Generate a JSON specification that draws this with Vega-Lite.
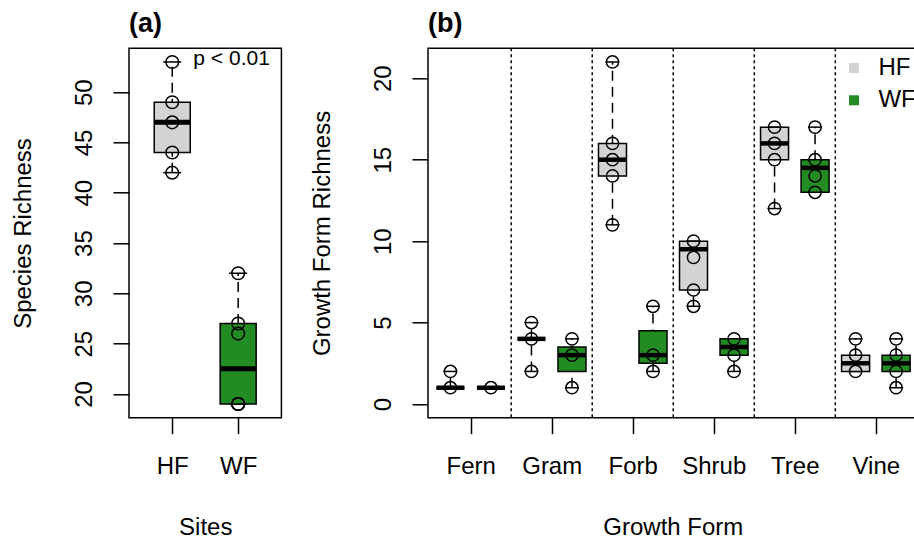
{
  "$schema": "https://vega.github.io/schema/vega-lite/v6.json",
  "padding": {"left": 10, "top": 8.3, "right": 0, "bottom": 0},
  "background": "white",
  "config": {
    "font": "Liberation Sans",
    "view": {"stroke": "black", "strokeWidth": 1.5},
    "tick": {"opacity": 1},
    "axis": {
      "domain": false,
      "tickColor": "black", "tickWidth": 1.5, "tickSize": 16,
      "labelColor": "black", "labelFontSize": 24, "labelFont": "Liberation Sans",
      "titleColor": "black", "titleFontSize": 24, "titleFontWeight": "normal", "titleFont": "Liberation Sans",
      "grid": false, "labelFlush": false, "labelOverlap": false
    }
  },
  "datasets": {
    "statsA": [
      {"site": "HF", "pos": 1, "lo": 42, "q1": 44, "med": 47, "q3": 49, "hi": 53},
      {"site": "WF", "pos": 2, "lo": 19, "q1": 19, "med": 22.5, "q3": 27, "hi": 32}
    ],
    "ptsA": [
      {"site": "HF", "pos": 1, "richness": 53},
      {"site": "HF", "pos": 1, "richness": 49},
      {"site": "HF", "pos": 1, "richness": 47},
      {"site": "HF", "pos": 1, "richness": 44},
      {"site": "HF", "pos": 1, "richness": 42},
      {"site": "WF", "pos": 2, "richness": 32},
      {"site": "WF", "pos": 2, "richness": 27},
      {"site": "WF", "pos": 2, "richness": 26},
      {"site": "WF", "pos": 2, "richness": 19},
      {"site": "WF", "pos": 2, "richness": 19},
      {"site": "WF", "pos": 2, "richness": 19}
    ],
    "statsB": [
      {"form": "Fern", "site": "HF", "pos": 1, "lo": 1, "q1": 1, "med": 1, "q3": 1, "hi": 2},
      {"form": "Fern", "site": "WF", "pos": 2, "lo": 1, "q1": 1, "med": 1, "q3": 1, "hi": 1},
      {"form": "Gram", "site": "HF", "pos": 3, "lo": 2, "q1": 4, "med": 4, "q3": 4, "hi": 5},
      {"form": "Gram", "site": "WF", "pos": 4, "lo": 1, "q1": 2, "med": 3, "q3": 3.5, "hi": 4},
      {"form": "Forb", "site": "HF", "pos": 5, "lo": 11, "q1": 14, "med": 15, "q3": 16, "hi": 21},
      {"form": "Forb", "site": "WF", "pos": 6, "lo": 2, "q1": 2.5, "med": 3, "q3": 4.5, "hi": 6},
      {"form": "Shrub", "site": "HF", "pos": 7, "lo": 6, "q1": 7, "med": 9.5, "q3": 10, "hi": 10},
      {"form": "Shrub", "site": "WF", "pos": 8, "lo": 2, "q1": 3, "med": 3.5, "q3": 4, "hi": 4},
      {"form": "Tree", "site": "HF", "pos": 9, "lo": 12, "q1": 15, "med": 16, "q3": 17, "hi": 17},
      {"form": "Tree", "site": "WF", "pos": 10, "lo": 13, "q1": 13, "med": 14.5, "q3": 15, "hi": 17},
      {"form": "Vine", "site": "HF", "pos": 11, "lo": 2, "q1": 2, "med": 2.5, "q3": 3, "hi": 4},
      {"form": "Vine", "site": "WF", "pos": 12, "lo": 1, "q1": 2, "med": 2.5, "q3": 3, "hi": 4}
    ],
    "ptsB": [
      {"form": "Fern", "site": "HF", "pos": 1, "richness": 2},
      {"form": "Fern", "site": "HF", "pos": 1, "richness": 1},
      {"form": "Fern", "site": "WF", "pos": 2, "richness": 1},
      {"form": "Gram", "site": "HF", "pos": 3, "richness": 5},
      {"form": "Gram", "site": "HF", "pos": 3, "richness": 4},
      {"form": "Gram", "site": "HF", "pos": 3, "richness": 2},
      {"form": "Gram", "site": "WF", "pos": 4, "richness": 4},
      {"form": "Gram", "site": "WF", "pos": 4, "richness": 3},
      {"form": "Gram", "site": "WF", "pos": 4, "richness": 1},
      {"form": "Forb", "site": "HF", "pos": 5, "richness": 21},
      {"form": "Forb", "site": "HF", "pos": 5, "richness": 16},
      {"form": "Forb", "site": "HF", "pos": 5, "richness": 15},
      {"form": "Forb", "site": "HF", "pos": 5, "richness": 14},
      {"form": "Forb", "site": "HF", "pos": 5, "richness": 11},
      {"form": "Forb", "site": "WF", "pos": 6, "richness": 6},
      {"form": "Forb", "site": "WF", "pos": 6, "richness": 3},
      {"form": "Forb", "site": "WF", "pos": 6, "richness": 2},
      {"form": "Shrub", "site": "HF", "pos": 7, "richness": 10},
      {"form": "Shrub", "site": "HF", "pos": 7, "richness": 9},
      {"form": "Shrub", "site": "HF", "pos": 7, "richness": 7},
      {"form": "Shrub", "site": "HF", "pos": 7, "richness": 6},
      {"form": "Shrub", "site": "WF", "pos": 8, "richness": 4},
      {"form": "Shrub", "site": "WF", "pos": 8, "richness": 3},
      {"form": "Shrub", "site": "WF", "pos": 8, "richness": 2},
      {"form": "Tree", "site": "HF", "pos": 9, "richness": 17},
      {"form": "Tree", "site": "HF", "pos": 9, "richness": 16},
      {"form": "Tree", "site": "HF", "pos": 9, "richness": 15},
      {"form": "Tree", "site": "HF", "pos": 9, "richness": 12},
      {"form": "Tree", "site": "WF", "pos": 10, "richness": 17},
      {"form": "Tree", "site": "WF", "pos": 10, "richness": 15},
      {"form": "Tree", "site": "WF", "pos": 10, "richness": 14},
      {"form": "Tree", "site": "WF", "pos": 10, "richness": 13},
      {"form": "Vine", "site": "HF", "pos": 11, "richness": 4},
      {"form": "Vine", "site": "HF", "pos": 11, "richness": 3},
      {"form": "Vine", "site": "HF", "pos": 11, "richness": 2},
      {"form": "Vine", "site": "WF", "pos": 12, "richness": 4},
      {"form": "Vine", "site": "WF", "pos": 12, "richness": 3},
      {"form": "Vine", "site": "WF", "pos": 12, "richness": 2},
      {"form": "Vine", "site": "WF", "pos": 12, "richness": 1}
    ],
    "seps": [
      {"boundary": 2.5}, {"boundary": 4.5}, {"boundary": 6.5}, {"boundary": 8.5}, {"boundary": 10.5}
    ]
  },
  "hconcat": [
    {
      "width": 152.4,
      "height": 369.4,
      "title": {"text": "(a)", "anchor": "start", "frame": "group", "fontSize": 27, "fontWeight": "bold", "baseline": "alphabetic", "offset": -11, "color": "black"},
      "layer": [
        {
          "data": {"name": "statsA"},
          "mark": {"type": "rule", "color": "black", "strokeWidth": 1.5, "strokeDash": [10, 6]},
          "encoding": {
            "x": {"field": "pos", "type": "quantitative",
                  "scale": {"domain": [0.42, 2.58], "nice": false, "zero": false},
                  "axis": {"title": "Sites", "values": [1, 2], "labelExpr": "datum.value == 1 ? 'HF' : 'WF'",
                           "labelBaseline": "alphabetic", "labelPadding": 40, "labelAngle": 0,
                           "titleBaseline": "alphabetic", "titleY": 116.5}},
            "y": {"field": "lo", "type": "quantitative",
                  "scale": {"domain": [17.64, 54.36], "nice": false, "zero": false},
                  "axis": {"title": "Species Richness", "values": [20, 25, 30, 35, 40, 45, 50],
                           "labelAngle": 270, "labelAlign": "center", "labelBaseline": "alphabetic", "labelPadding": 21.3,
                           "titleAngle": 270, "titleBaseline": "alphabetic", "titleAlign": "center", "titleX": -98.5, "titleY": 184.7}},
            "y2": {"field": "hi"}
          }
        },
        {
          "data": {"name": "statsA"},
          "mark": {"type": "tick", "orient": "horizontal", "color": "black", "size": 18, "thickness": 1.5},
          "encoding": {
            "x": {"field": "pos", "type": "quantitative"},
            "y": {"field": "lo", "type": "quantitative"}
          }
        },
        {
          "data": {"name": "statsA"},
          "mark": {"type": "tick", "orient": "horizontal", "color": "black", "size": 18, "thickness": 1.5},
          "encoding": {
            "x": {"field": "pos", "type": "quantitative"},
            "y": {"field": "hi", "type": "quantitative"}
          }
        },
        {
          "data": {"name": "statsA"},
          "mark": {"type": "bar", "width": 36, "stroke": "black", "strokeWidth": 1.5, "opacity": 1},
          "encoding": {
            "x": {"field": "pos", "type": "quantitative"},
            "y": {"field": "q1", "type": "quantitative"},
            "y2": {"field": "q3"},
            "fill": {"field": "site", "type": "nominal", "scale": {"domain": ["HF", "WF"], "range": ["#d3d3d3", "#228b22"]}, "legend": null}
          }
        },
        {
          "data": {"name": "statsA"},
          "mark": {"type": "tick", "orient": "horizontal", "color": "black", "size": 36, "thickness": 5, "opacity": 1},
          "encoding": {
            "x": {"field": "pos", "type": "quantitative"},
            "y": {"field": "med", "type": "quantitative"}
          }
        },
        {
          "data": {"name": "ptsA"},
          "mark": {"type": "point", "shape": "circle", "filled": false, "size": 160, "stroke": "black", "strokeWidth": 1.5, "opacity": 1},
          "encoding": {
            "x": {"field": "pos", "type": "quantitative"},
            "y": {"field": "richness", "type": "quantitative"}
          }
        },
        {
          "data": {"values": [{"label": "p < 0.01"}]},
          "mark": {"type": "text", "align": "right", "baseline": "alphabetic", "fontSize": 21, "color": "black"},
          "encoding": {
            "x": {"datum": 2.48, "type": "quantitative"},
            "y": {"datum": 52.66, "type": "quantitative"},
            "text": {"field": "label"}
          }
        }
      ]
    },
    {
      "width": 489.6,
      "height": 369.4,
      "title": {"text": "(b)", "anchor": "start", "frame": "group", "fontSize": 27, "fontWeight": "bold", "baseline": "alphabetic", "offset": -11, "color": "black"},
      "layer": [
        {
          "data": {"name": "seps"},
          "mark": {"type": "rule", "color": "black", "strokeWidth": 1.5, "strokeDash": [3, 3]},
          "encoding": {
            "x": {"field": "boundary", "type": "quantitative"}
          }
        },
        {
          "data": {"name": "statsB"},
          "mark": {"type": "rule", "color": "black", "strokeWidth": 1.5, "strokeDash": [10, 6]},
          "encoding": {
            "x": {"field": "pos", "type": "quantitative",
                  "scale": {"domain": [0.57, 12.407], "nice": false, "zero": false},
                  "axis": {"title": "Growth Form", "values": [1.5, 3.5, 5.5, 7.5, 9.5, 11.5],
                           "labelExpr": "['Fern','Gram','Forb','Shrub','Tree','Vine'][floor(datum.value / 2)]",
                           "labelBaseline": "alphabetic", "labelPadding": 40, "labelAngle": 0,
                           "titleBaseline": "alphabetic", "titleY": 116.5}},
            "y": {"field": "lo", "type": "quantitative",
                  "scale": {"domain": [-0.84, 21.84], "nice": false, "zero": false},
                  "axis": {"title": "Growth Form Richness", "values": [0, 5, 10, 15, 20],
                           "labelAngle": 270, "labelAlign": "center", "labelBaseline": "alphabetic", "labelPadding": 21.3,
                           "titleAngle": 270, "titleBaseline": "alphabetic", "titleAlign": "center", "titleX": -98.5, "titleY": 184.7}},
            "y2": {"field": "hi"}
          }
        },
        {
          "data": {"name": "statsB"},
          "mark": {"type": "tick", "orient": "horizontal", "color": "black", "size": 14, "thickness": 1.5},
          "encoding": {
            "x": {"field": "pos", "type": "quantitative"},
            "y": {"field": "lo", "type": "quantitative"}
          }
        },
        {
          "data": {"name": "statsB"},
          "mark": {"type": "tick", "orient": "horizontal", "color": "black", "size": 14, "thickness": 1.5},
          "encoding": {
            "x": {"field": "pos", "type": "quantitative"},
            "y": {"field": "hi", "type": "quantitative"}
          }
        },
        {
          "data": {"name": "statsB"},
          "mark": {"type": "bar", "width": 28, "stroke": "black", "strokeWidth": 1.5, "opacity": 1},
          "encoding": {
            "x": {"field": "pos", "type": "quantitative"},
            "y": {"field": "q1", "type": "quantitative"},
            "y2": {"field": "q3"},
            "fill": {"field": "site", "type": "nominal",
                     "scale": {"domain": ["HF", "WF"], "range": ["#d3d3d3", "#228b22"]},
                     "legend": {"title": null, "orient": "none", "legendX": 414, "legendY": 7.7,
                                "symbolType": "square", "symbolSize": 100, "symbolStrokeWidth": 0, "symbolOpacity": 1,
                                "labelFontSize": 24, "labelColor": "black", "labelOffset": 12.4, "rowPadding": 8.3, "padding": 0}}
          }
        },
        {
          "data": {"name": "statsB"},
          "mark": {"type": "tick", "orient": "horizontal", "color": "black", "size": 28, "thickness": 4.5, "opacity": 1},
          "encoding": {
            "x": {"field": "pos", "type": "quantitative"},
            "y": {"field": "med", "type": "quantitative"}
          }
        },
        {
          "data": {"name": "ptsB"},
          "mark": {"type": "point", "shape": "circle", "filled": false, "size": 150, "stroke": "black", "strokeWidth": 1.5, "opacity": 1},
          "encoding": {
            "x": {"field": "pos", "type": "quantitative"},
            "y": {"field": "richness", "type": "quantitative"}
          }
        }
      ]
    }
  ],
  "spacing": 146,
  "bounds": "flush",
  "resolve": {"scale": {"fill": "independent", "x": "independent", "y": "independent"}, "legend": {"fill": "independent"}}
}
